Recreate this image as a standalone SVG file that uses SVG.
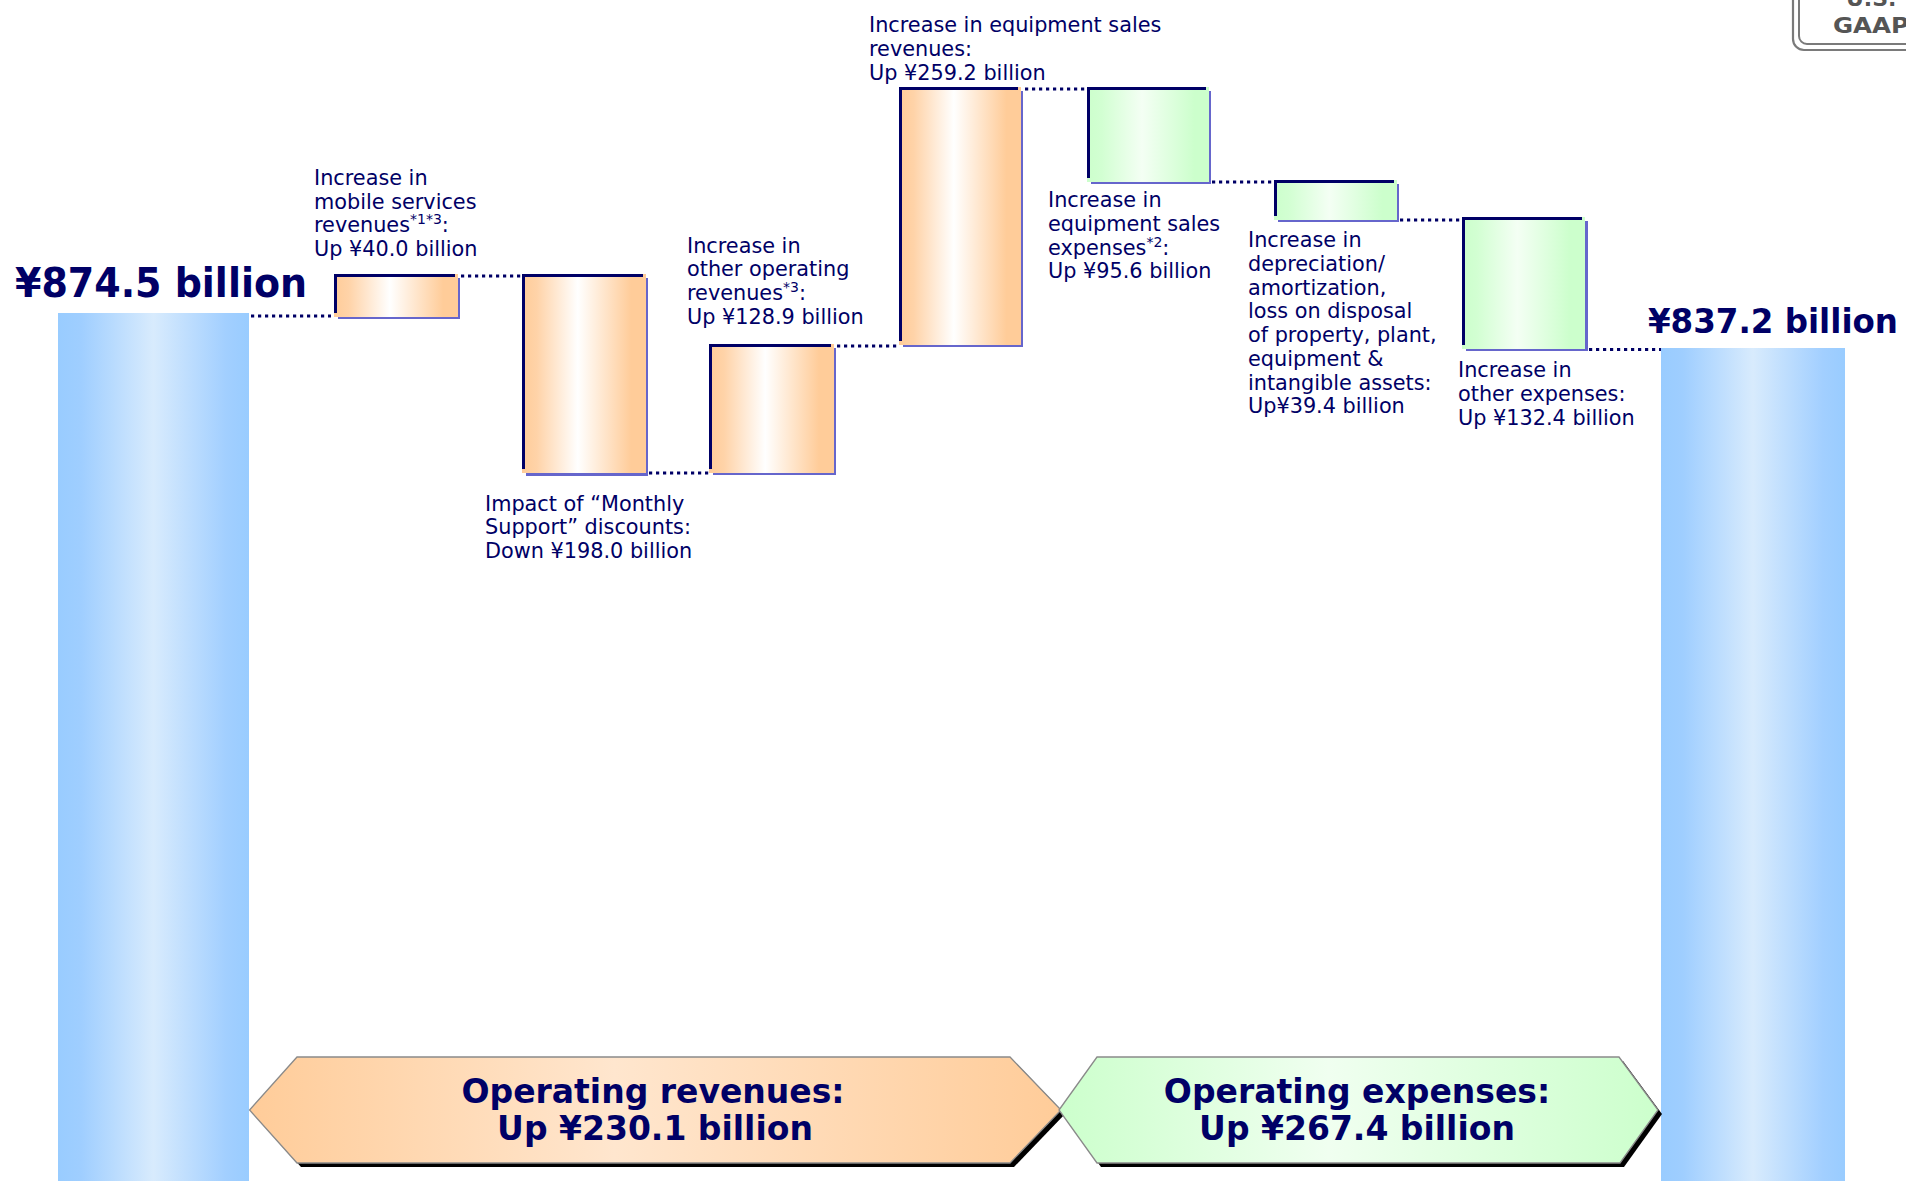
<svg xmlns="http://www.w3.org/2000/svg" width="1906" height="1181" viewBox="0 0 1906 1181">
<style>
.lbl{font-family:"DejaVu Sans",Verdana,sans-serif;font-size:20.8px;fill:#000066}
.sup{font-size:14px}
.big{font-family:"DejaVu Sans",Verdana,sans-serif;font-weight:bold;fill:#000066}
.hx{font-family:"DejaVu Sans",Verdana,sans-serif;font-weight:bold;font-size:33px;fill:#000066;text-anchor:middle}
.dot{fill:none;stroke:#000066;stroke-width:3;stroke-dasharray:3.2 3.8}
.shadow{fill:#6666CC}
.edge{fill:none;stroke:#000066;stroke-width:3}
.rev{fill:url(#gRev)}
.exp{fill:url(#gExp)}
.bar{fill:url(#gBar)}
.hexline{stroke:#8a8a8a;stroke-width:1.3}
</style>
<defs>
<linearGradient id="gRev" x1="0" y1="0" x2="1" y2="0">
<stop offset="0" stop-color="#FFCC99"/>
<stop offset="0.12" stop-color="#FFD3A8"/>
<stop offset="0.45" stop-color="#FFFFFF"/>
<stop offset="0.88" stop-color="#FFCC99"/>
<stop offset="1" stop-color="#FFCC99"/>
</linearGradient>
<linearGradient id="gExp" x1="0" y1="0" x2="1" y2="0">
<stop offset="0" stop-color="#CCFFCC"/>
<stop offset="0.12" stop-color="#D2FFD2"/>
<stop offset="0.45" stop-color="#F4FFF4"/>
<stop offset="0.88" stop-color="#CCFFCC"/>
<stop offset="1" stop-color="#CCFFCC"/>
</linearGradient>
<linearGradient id="gBar" x1="0" y1="0" x2="1" y2="0">
<stop offset="0" stop-color="#99CCFF"/>
<stop offset="0.12" stop-color="#9FCEFF"/>
<stop offset="0.5" stop-color="#D8EBFD"/>
<stop offset="0.88" stop-color="#A2CFFF"/>
<stop offset="1" stop-color="#99CCFF"/>
</linearGradient>
<linearGradient id="gHexRev" x1="0" y1="0" x2="1" y2="0">
<stop offset="0" stop-color="#FFCC99"/>
<stop offset="0.45" stop-color="#FFE6CE"/>
<stop offset="1" stop-color="#FFCC99"/>
</linearGradient>
<linearGradient id="gHexExp" x1="0" y1="0" x2="1" y2="0">
<stop offset="0" stop-color="#CCFFCC"/>
<stop offset="0.45" stop-color="#F0FFF0"/>
<stop offset="1" stop-color="#CCFFCC"/>
</linearGradient>
</defs>

<rect width="1906" height="1181" fill="#FFFFFF"/>

<g id="badge-gaap">
<rect x="1793" y="-30" width="160" height="80" rx="11" fill="#FFFFFF" stroke="#7a7a7a" stroke-width="2.2"/>
<rect x="1799" y="-30" width="160" height="74" rx="8" fill="none" stroke="#7a7a7a" stroke-width="2"/>
<text x="1846" y="5.5" font-family="DejaVu Sans,sans-serif" font-weight="bold" font-size="22" fill="#555555">U.S.</text>
<text x="1833" y="32.5" font-family="DejaVu Sans,sans-serif" font-weight="bold" font-size="22" fill="#555555" textLength="76" lengthAdjust="spacingAndGlyphs">GAAP</text>
</g>

<g id="bar-start">
<rect class="bar" x="58" y="313" width="191" height="868"/>
<text class="big" x="15" y="297" font-size="40" textLength="292" lengthAdjust="spacingAndGlyphs">¥874.5 billion</text>
</g>

<g id="bar-end">
<rect class="bar" x="1661" y="348" width="184" height="833"/>
<text class="big" x="1648" y="332.7" font-size="34" textLength="250" lengthAdjust="spacingAndGlyphs">¥837.2 billion</text>
</g>

<g id="connectors">
<line class="dot" x1="251" y1="316" x2="331" y2="316"/>
<line class="dot" x1="461" y1="276" x2="521" y2="276"/>
<line class="dot" x1="649" y1="473" x2="709" y2="473"/>
<line class="dot" x1="837" y1="346" x2="898" y2="346"/>
<line class="dot" x1="1025" y1="89" x2="1086" y2="89"/>
<line class="dot" x1="1212" y1="182" x2="1273" y2="182"/>
<line class="dot" x1="1400" y1="220" x2="1461" y2="220"/>
<line class="dot" x1="1589" y1="349.5" x2="1661" y2="349.5"/>
</g>

<g id="box-mobile-services">
<rect class="shadow" x="338" y="278" width="122" height="41"/>
<rect class="rev" x="334" y="274" width="124" height="43"/>
<path class="edge" d="M335.5 313 V275.5 H455"/>
<text class="lbl" x="314"><tspan x="314" y="185">Increase in</tspan><tspan x="314" y="208.7">mobile services</tspan><tspan x="314" y="232.3">revenues<tspan class="sup" dy="-8">*1*3</tspan><tspan dy="8">:</tspan></tspan><tspan x="314" y="256">Up ¥40.0 billion</tspan></text>
</g>

<g id="box-monthly-support">
<rect class="shadow" x="526" y="278" width="122" height="198"/>
<rect class="rev" x="522" y="274" width="124" height="199"/>
<path class="edge" d="M523.5 469 V275.5 H643"/>
<text class="lbl"><tspan x="485" y="510.7">Impact of “Monthly</tspan><tspan x="485" y="534.4">Support” discounts:</tspan><tspan x="485" y="558">Down ¥198.0 billion</tspan></text>
</g>

<g id="box-other-operating-revenues">
<rect class="shadow" x="713" y="348" width="123" height="127"/>
<rect class="rev" x="709" y="344" width="125" height="129"/>
<path class="edge" d="M710.5 469 V345.5 H831"/>
<text class="lbl"><tspan x="687" y="252.6">Increase in</tspan><tspan x="687" y="276.3">other operating</tspan><tspan x="687" y="300">revenues<tspan class="sup" dy="-8">*3</tspan><tspan dy="8">:</tspan></tspan><tspan x="687" y="323.7">Up ¥128.9 billion</tspan></text>
</g>

<g id="box-equipment-sales-revenues">
<rect class="shadow" x="903" y="91" width="120" height="256"/>
<rect class="rev" x="899" y="87" width="122" height="258"/>
<path class="edge" d="M900.5 341 V88.5 H1018"/>
<text class="lbl"><tspan x="869" y="32.3">Increase in equipment sales</tspan><tspan x="869" y="56">revenues:</tspan><tspan x="869" y="79.6">Up ¥259.2 billion</tspan></text>
</g>

<g id="box-equipment-sales-expenses">
<rect class="shadow" x="1091" y="91" width="120" height="93"/>
<rect class="exp" x="1087" y="87" width="122" height="95"/>
<path class="edge" d="M1088.5 178 V88.5 H1206"/>
<text class="lbl"><tspan x="1048" y="207.3">Increase in</tspan><tspan x="1048" y="231">equipment sales</tspan><tspan x="1048" y="254.6">expenses<tspan class="sup" dy="-8">*2</tspan><tspan dy="8">:</tspan></tspan><tspan x="1048" y="278.3">Up ¥95.6 billion</tspan></text>
</g>

<g id="box-depreciation">
<rect class="shadow" x="1278" y="184" width="121" height="38"/>
<rect class="exp" x="1274" y="180" width="123" height="40"/>
<path class="edge" d="M1275.5 216 V181.5 H1394"/>
<text class="lbl"><tspan x="1248" y="247.3">Increase in</tspan><tspan x="1248" y="271">depreciation/</tspan><tspan x="1248" y="294.7">amortization,</tspan><tspan x="1248" y="318.4">loss on disposal</tspan><tspan x="1248" y="342.1">of property, plant,</tspan><tspan x="1248" y="365.8">equipment &amp;</tspan><tspan x="1248" y="389.5">intangible assets:</tspan><tspan x="1248" y="413.2">Up¥39.4 billion</tspan></text>
</g>

<g id="box-other-expenses">
<rect class="shadow" x="1466" y="221" width="122" height="130"/>
<rect class="exp" x="1462" y="217" width="123" height="132"/>
<path class="edge" d="M1463.5 345 V218.5 H1582"/>
<text class="lbl"><tspan x="1458" y="377.3">Increase in</tspan><tspan x="1458" y="401">other expenses:</tspan><tspan x="1458" y="424.7">Up ¥132.4 billion</tspan></text>
</g>

<g id="hex-operating-revenues">
<polygon points="253.6,1114 301,1061 1014,1061 1065,1114 1014,1167 301,1167" fill="#000000"/>
<polygon class="hexline" points="249.6,1110 297,1057 1010,1057 1061,1110 1010,1163 297,1163" fill="url(#gHexRev)"/>
<text class="hx"><tspan x="653" y="1103">Operating revenues:</tspan><tspan x="655" y="1140">Up ¥230.1 billion</tspan></text>
</g>

<g id="hex-operating-expenses">
<polygon points="1063,1114 1101,1061 1623,1061 1662,1114 1624,1167 1101,1167" fill="#000000"/>
<polygon class="hexline" points="1059,1110 1097,1057 1619,1057 1658,1110 1620,1163 1097,1163" fill="url(#gHexExp)"/>
<text class="hx"><tspan x="1357" y="1103">Operating expenses:</tspan><tspan x="1357" y="1140">Up ¥267.4 billion</tspan></text>
</g>
</svg>
